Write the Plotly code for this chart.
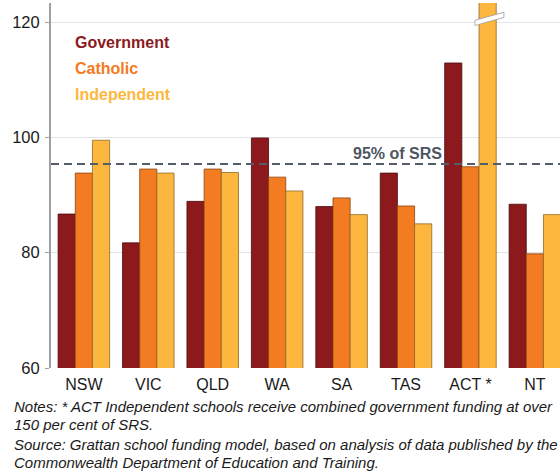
import plotly.graph_objects as go

states = ["NSW", "VIC", "QLD", "WA", "SA", "TAS", "ACT *", "NT"]
government = [86.7, 81.7, 88.9, 99.9, 88.0, 93.8, 112.9, 88.4]
catholic = [93.8, 94.5, 94.5, 93.1, 89.5, 88.1, 94.9, 79.8]
independent = [99.5, 93.8, 93.9, 90.7, 86.6, 85.0, 150.0, 86.6]
series_names = ["Government", "Catholic", "Independent"]
series_colors = ["#8c1a1d", "#f37b22", "#fdb73e"]
outline_colors = ["#4a0c0e", "#8a4410", "#8f6a2a"]
srs_line = 95.4
y_ticks = [60, 80, 100, 120]
note_lines = [
    "Notes: * ACT Independent schools receive combined government funding at over",
    "150 per cent of SRS.",
    "Source: Grattan school funding model, based on analysis of data published by the",
    "Commonwealth Department of Education and Training.",
]

W, H = 560, 475
ML, MT, MB = 51, 3, 107
plot_h = H - MT - MB
plot_w = W - ML


def py(pix):
    return (H - MB - pix) / plot_h


fig = go.Figure()
for name, vals, col, oc in zip(series_names, [government, catholic, independent], series_colors, outline_colors):
    fig.add_trace(go.Bar(
        x=states, y=vals, name=name, marker=dict(color=col, line=dict(color=oc, width=0.8)),
        showlegend=False, cliponaxis=True,
    ))

# dashed 95% SRS line
fig.add_shape(type="line", xref="paper", yref="y", x0=0, x1=1, y0=srs_line, y1=srs_line,
              line=dict(color="#555e68", width=2, dash="8px,5px"), layer="above")
fig.add_annotation(x=4.87, y=srs_line, xref="x", yref="y", text="<b>95% of SRS</b>",
                   showarrow=False, yanchor="bottom", yshift=0,
                   font=dict(family="Liberation Sans, Arial", size=16, color="#4d5661"))

# axis-break marker on ACT Independent bar
act_i = states.index("ACT *")
bx0, bx1 = act_i + 0.07, act_i + 0.52
fig.add_shape(type="path", xref="x", yref="y",
              path=f"M {bx0},119.4 L {bx1},120.8 L {bx1},121.7 L {bx0},120.3 Z",
              fillcolor="white", line=dict(color="#9a9a9a", width=0.8), layer="above")

# legend as coloured text
for name, col, ypix in zip(series_names, series_colors, [42, 68, 95]):
    fig.add_annotation(x=(73 - ML) / plot_w, y=py(ypix), xref="paper", yref="paper",
                       text=f"<b>{name}</b>", showarrow=False, xanchor="left", yanchor="middle",
                       font=dict(family="Liberation Sans, Arial", size=16, color=col))

note_font = dict(family="Liberation Sans, Arial", size=15, color="#1a1a1a")
for line, ypix in zip(note_lines, [407, 425, 444, 462]):
    fig.add_annotation(x=(12 - ML) / plot_w, y=py(ypix), xref="paper", yref="paper",
                       xanchor="left", yanchor="middle", align="left",
                       text=f"<i>{line}</i>", showarrow=False, font=note_font)

fig.update_layout(
    width=W, height=H,
    margin=dict(l=ML, r=0, t=MT, b=MB, autoexpand=False),
    paper_bgcolor="white", plot_bgcolor="white",
    barmode="group", bargap=0.2, bargroupgap=0,
    font=dict(family="Liberation Sans, Arial", color="#1a1a1a"),
    xaxis=dict(range=[-0.51, 7.39], showgrid=False, showline=False, ticks="",
               ticklabelstandoff=5, tickfont=dict(size=16, color="#1a1a1a")),
    yaxis=dict(range=[60, 123.3], tickvals=y_ticks, showgrid=True, gridcolor="#e1e5ea", gridwidth=1.3,
               showline=True, linecolor="#a0a0a0", linewidth=2, ticks="outside", ticklen=4,
               ticklabelstandoff=2,
               tickcolor="#a0a0a0", tickfont=dict(size=16.5, color="#1a1a1a"), zeroline=False),
)
fig.write_html("out.html", config={"displayModeBar": False},
               post_script="document.body.style.margin='0';")
